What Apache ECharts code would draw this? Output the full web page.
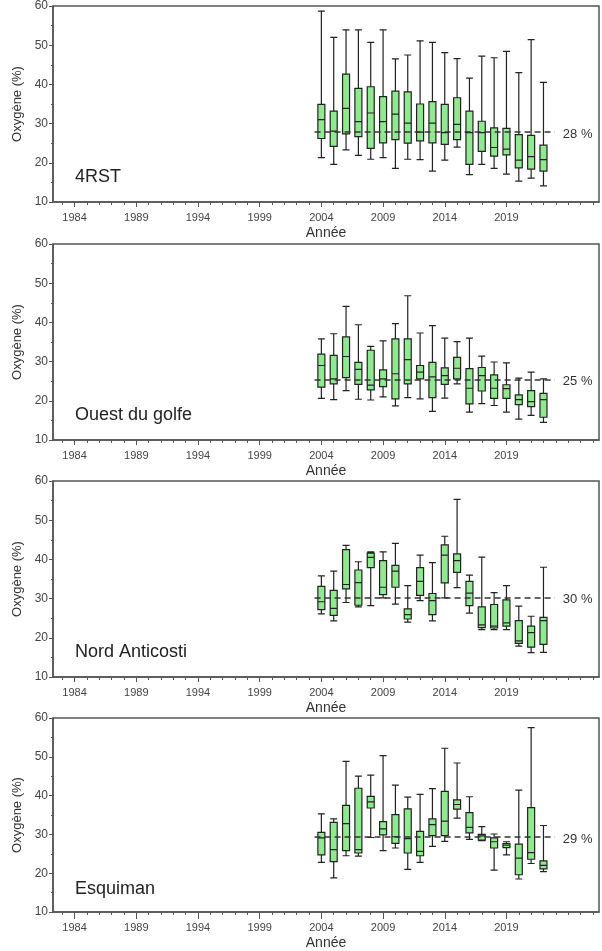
<!DOCTYPE html>
<html><head><meta charset="utf-8">
<script src="https://cdn.jsdelivr.net/npm/echarts@6/dist/echarts.min.js"></script>
<style>html,body{margin:0;padding:0;background:#fff}#c{width:602px;height:951px}</style>
</head><body><div id="c"></div>
<script>
// ---- data ----
const years = [2004,2005,2006,2007,2008,2009,2010,2011,2012,2013,2014,2015,2016,2017,2018,2019,2020,2021,2022];
const xTickLabels = [1984,1989,1994,1999,2004,2009,2014,2019];
const minorYears = [1983,1984,1985,1986,1987,1988,1989,1990,1991,1992,1993,1994,1995,1996,1997,1998,1999,2000,2001,2002,2003,2004,2005,2006,2007,2008,2009,2010,2011,2012,2013,2014,2015,2016,2017,2018,2019,2020,2021,2022,2023,2024,2025,2026];
const panelNames = ['4RST','Ouest du golfe','Nord Anticosti','Esquiman'];
const refValues = [27.8, 25.4, 30.2, 29.3];
const refLabels = ['28 %','25 %','30 %','29 %'];
// [min, Q1, median, Q3, max]
const box4RST = [
 [21.3,26.2,31.0,34.9,58.7],[19.6,24.2,28.1,33.2,52.0],[23.3,27.4,33.9,42.6,53.9],[21.9,26.7,30.5,39.0,53.9],
 [20.9,23.7,32.7,39.4,50.7],[21.3,25.1,30.5,36.9,53.9],[18.6,25.9,32.4,38.3,46.5],[20.9,25.0,30.1,38.1,47.5],
 [20.8,25.6,27.8,35.0,51.1],[17.9,25.1,30.1,35.6,50.7],[20.7,24.7,27.7,34.9,48.1],[24.0,25.9,29.8,36.6,46.6],
 [17.0,19.6,27.7,33.2,41.6],[19.6,22.9,27.7,30.6,47.2],[18.6,21.7,23.9,28.9,46.8],[17.1,22.0,23.5,28.8,48.4],
 [15.3,18.7,20.7,27.2,43.0],[16.1,18.4,21.6,27.0,51.4],[14.1,17.9,20.8,24.5,40.5]
];
const boxOuest = [
 [20.6,23.5,29.0,31.9,35.8],[20.3,24.3,25.6,31.6,37.1],[22.6,25.9,31.3,36.3,44.1],[20.4,24.2,28.0,29.8,39.4],
 [20.2,22.8,24.0,32.9,33.9],[21.0,23.6,25.6,27.9,35.3],[18.7,20.5,26.9,35.8,39.7],[20.8,24.3,30.5,35.8,46.8],
 [20.5,25.6,27.3,29.0,37.3],[17.3,20.8,26.1,29.8,39.2],[20.7,24.2,26.4,28.4,36.0],[24.3,25.6,28.3,31.1,35.1],
 [17.1,19.2,23.2,28.2,36.0],[19.3,22.5,26.4,28.5,31.4],[18.8,20.6,23.2,26.6,29.9],[17.1,20.6,23.1,24.1,29.7],
 [15.3,19.0,20.3,21.5,25.8],[16.3,18.5,19.8,22.6,27.3],[14.5,15.8,20.3,21.9,25.6]
];
const boxNord = [
 [26.1,27.2,29.2,33.1,35.8],[24.3,25.7,27.5,32.1,37.0],[29.0,32.5,33.6,42.5,43.6],[27.9,28.3,34.1,37.3,39.4],
 [28.2,37.9,40.5,41.6,41.9],[30.2,31.0,32.9,39.7,41.9],[28.6,32.9,37.0,38.5,44.1],[24.0,24.8,25.9,27.4,33.3],
 [29.5,30.8,34.4,37.9,41.1],[24.3,25.9,29.5,31.3,39.2],[30.2,34.0,41.1,43.7,45.9],[32.8,36.7,39.7,41.4,55.3],
 [26.3,28.2,31.4,34.4,36.0],[22.1,22.6,23.3,27.9,40.6],[22.1,22.5,23.0,28.5,31.5],[22.1,23.0,23.8,29.7,33.3],
 [17.9,18.6,19.2,24.4,28.1],[16.2,17.6,21.3,23.0,25.5],[16.3,18.3,24.4,25.2,38.0]
];
const boxEsquiman = [
 [22.8,24.7,29.1,30.5,35.3],[18.8,23.0,26.1,33.1,34.0],[24.5,25.8,32.8,37.5,48.8],[24.4,25.2,26.1,41.9,45.0],
 [29.2,36.8,38.4,39.8,45.3],[25.8,29.9,31.4,33.3,50.3],[26.5,27.7,29.4,35.1,42.7],[21.0,25.2,28.9,36.6,39.6],
 [22.8,24.5,25.6,30.8,40.3],[26.9,29.7,32.5,34.0,41.8],[28.2,29.7,33.4,41.1,52.2],[34.2,36.5,37.7,38.9,48.4],
 [28.7,30.4,31.8,35.6,39.7],[28.4,28.5,29.6,30.0,32.0],[20.8,26.5,28.1,29.1,30.1],[24.7,26.6,27.2,27.6,28.1],
 [18.5,19.6,23.9,27.5,41.4],[22.5,23.6,25.3,36.9,57.5],[20.4,21.1,22.0,23.2,32.3]
];
const panelData = [box4RST, boxOuest, boxNord, boxEsquiman];

// ---- layout ----
const gridTops = [6, 244, 481, 718];
const gridH = 196;
const font = 'Liberation Sans';
const xMin = 1982.25, xMax = 2026.5;

const grids = [], xAxes = [], yAxes = [], series = [], graphics = [];
panelData.forEach((arr, i) => {
  const g = {left: 53, right: 3, top: gridTops[i], height: gridH};
  grids.push(Object.assign({show: true, borderColor: '#555', borderWidth: 1.5, backgroundColor: 'rgba(0,0,0,0)'}, g));
  grids.push(Object.assign({show: false}, g));
  xAxes.push({
    type: 'value', gridIndex: 2*i, min: xMin, max: xMax,
    axisLine: {show: true, lineStyle: {color: '#555', width: 1.5}},
    axisTick: {show: true, customValues: minorYears, length: 3, lineStyle: {color: '#555', width: 1}},
    axisLabel: {customValues: xTickLabels, formatter: v => String(v), fontSize: 11, color: '#444', margin: 10, fontFamily: font},
    splitLine: {show: false},
    name: 'Année', nameLocation: 'middle', nameGap: 24,
    nameTextStyle: {fontSize: 14, color: '#333', fontFamily: font}
  });
  xAxes.push({
    type: 'value', gridIndex: 2*i+1, min: xMin, max: xMax,
    axisLine: {show: false},
    axisTick: {show: true, customValues: xTickLabels, length: 5, lineStyle: {color: '#555', width: 1}},
    axisLabel: {show: false}, splitLine: {show: false}
  });
  yAxes.push({
    type: 'value', gridIndex: 2*i, min: 10, max: 60, interval: 10,
    axisLine: {show: true, lineStyle: {color: '#555', width: 1.5}},
    axisTick: {show: true, length: 4, lineStyle: {color: '#555'}},
    minorTick: {show: true, splitNumber: 2, length: 2, lineStyle: {color: '#555'}},
    axisLabel: {fontSize: 12, color: '#444', margin: 5, fontFamily: font},
    splitLine: {show: false}, minorSplitLine: {show: false},
    name: 'Oxygène (%)', nameLocation: 'middle', nameGap: 27,
    nameTextStyle: {fontSize: 13, color: '#333', fontFamily: font}
  });
  yAxes.push({type: 'value', gridIndex: 2*i+1, min: 10, max: 60, show: false});
  series.push({
    type: 'boxplot', xAxisIndex: 2*i, yAxisIndex: 2*i,
    data: years.map((y, j) => [y].concat(arr[j])),
    boxWidth: [7, 7],
    itemStyle: {color: '#90e890', borderColor: '#222', borderWidth: 1.2},
    silent: true,
    markLine: {
      silent: true, symbol: 'none',
      lineStyle: {type: [6, 4], color: '#333', width: 1.5},
      label: {show: true, position: 'end', formatter: refLabels[i], fontSize: 13, color: '#333', distance: 8, fontFamily: font, offset: [0, 2]},
      data: [[{coord: [2003.45, refValues[i]]}, {coord: [2022.92, refValues[i]]}]]
    }
  });
  graphics.push({
    type: 'text', x: 75, y: gridTops[i] + gridH - 25,
    style: {text: panelNames[i], fontSize: 18, fontFamily: font, fill: '#222', verticalAlign: 'middle'}
  });
});

const chart = echarts.init(document.getElementById('c'), null, {renderer: 'canvas'});
chart.setOption({
  animation: false,
  grid: grids, xAxis: xAxes, yAxis: yAxes, series: series, graphic: graphics
});
</script>
</body></html>
